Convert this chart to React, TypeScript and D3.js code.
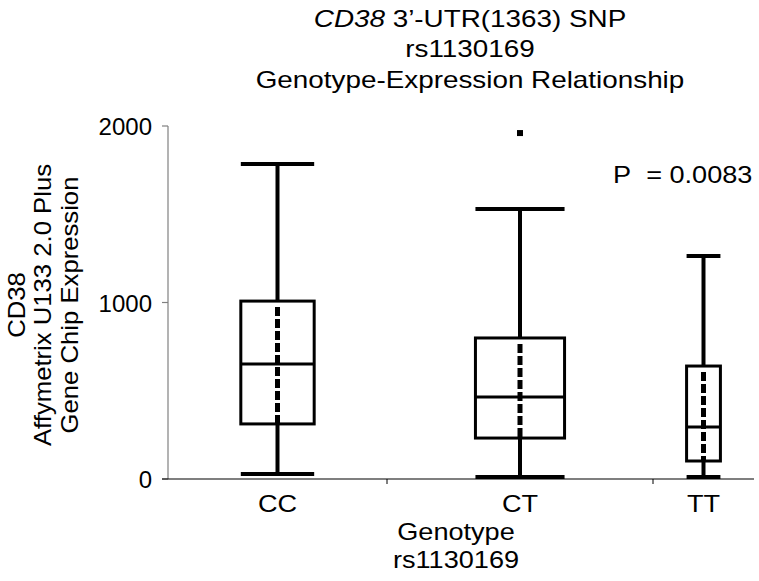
import React from "react";
import * as d3 from "d3";

const categories = ["CC", "CT", "TT"];
// relative group widths (proportional to group size)
const groupWeights = [219, 266, 101];
const whiskerLow = [28, 11, 11];
const q1 = [312, 232, 102];
const median = [652, 465, 295];
const q3 = [1008, 799, 640];
const whiskerHigh = [1785, 1530, 1263];
const outliers: { group: number; value: number }[] = [{ group: 1, value: 1960 }];
const yTicks = [0, 1000, 2000];
const pText = "P\u00a0\u00a0= 0.0083";

const W = 759;
const H = 581;
const left = 168;
const right = 754;
const top = 126;
const bottom = 479;
const font = "Liberation Sans, Arial, sans-serif";
const SX = 1.13;

function T({ x, y, size, anchor = "middle", sx = SX, children }: any) {
  return (
    <text
      transform={`translate(${x},${y}) scale(${sx},1)`}
      textAnchor={anchor}
      fontSize={size}
      fill="#000"
    >
      {children}
    </text>
  );
}

export default function App() {
  const y = d3.scaleLinear().domain([0, 2000]).range([bottom, top]);
  const total = d3.sum(groupWeights);
  const x = d3.scaleLinear().domain([0, total]).range([left, right]);
  const cum = [0, ...d3.cumsum(groupWeights)];
  const bands = categories.map((c, i) => ({
    c,
    x0: x(cum[i]),
    x1: x(cum[i + 1]),
    center: (x(cum[i]) + x(cum[i + 1])) / 2,
    bw: (x(cum[i + 1]) - x(cum[i])) * 0.335,
  }));

  return (
    <svg width={W} height={H} style={{ position: "absolute", left: 0, top: 0 }} fontFamily={font}>
      <rect width={W} height={H} fill="#fff" />
      {/* title */}
      <T x={470} y={27} size={24} sx={1.16}>
        <tspan fontStyle="italic">CD38</tspan> 3’-UTR(1363) SNP
      </T>
      <T x={470} y={57} size={24} sx={1.16}>rs1130169</T>
      <T x={470} y={88} size={24} sx={1.16}>Genotype-Expression Relationship</T>
      {/* y axis label */}
      <text transform="translate(0,305) rotate(-90) scale(1.07,1)" textAnchor="middle" fontSize={24} fill="#000">
        <tspan x={0} y={25}>CD38</tspan>
        <tspan x={0} y={51}>Affymetrix U133 2.0 Plus</tspan>
        <tspan x={0} y={78}>Gene Chip Expression</tspan>
      </text>
      {/* y axis */}
      <line x1={left} x2={left} y1={top} y2={bottom} stroke="#808080" strokeWidth={1.2} />
      {yTicks.map((t) => (
        <g key={t}>
          <line x1={left - 6} x2={left} y1={y(t)} y2={y(t)} stroke="#808080" strokeWidth={1.2} />
          <text x={152} y={y(t) + 9} textAnchor="end" fontSize={24} fill="#000">
            {t}
          </text>
        </g>
      ))}
      {/* x axis */}
      <line x1={left - 6} x2={right} y1={bottom} y2={bottom} stroke="#000" strokeWidth={1.2} />
      {bands.slice(1).map((b) => (
        <line key={b.c} x1={b.x0} x2={b.x0} y1={bottom} y2={bottom + 5} stroke="#000" strokeWidth={1} />
      ))}
      {bands.map((b) => (
        <T key={b.c} x={b.center} y={512} size={24}>
          {b.c}
        </T>
      ))}
      <T x={456} y={540} size={24}>Genotype</T>
      <T x={456} y={568} size={24}>rs1130169</T>
      {/* boxes */}
      {bands.map((b, i) => {
        const hw = b.bw / 2;
        return (
          <g key={b.c} stroke="#000" fill="none">
            <line x1={b.center} x2={b.center} y1={y(whiskerHigh[i])} y2={y(q3[i])} strokeWidth={4} />
            <line x1={b.center} x2={b.center} y1={y(q1[i])} y2={y(whiskerLow[i])} strokeWidth={4} />
            <line
              x1={b.center}
              x2={b.center}
              y1={y(q3[i]) + 6}
              y2={y(q1[i])}
              strokeWidth={5}
              strokeDasharray="9 3"
            />
            <rect x={b.center - hw} y={y(q3[i])} width={b.bw} height={y(q1[i]) - y(q3[i])} strokeWidth={3} />
            <line x1={b.center - hw} x2={b.center + hw} y1={y(median[i])} y2={y(median[i])} strokeWidth={3} />
            <line x1={b.center - hw} x2={b.center + hw} y1={y(whiskerHigh[i])} y2={y(whiskerHigh[i])} strokeWidth={4} />
            <line x1={b.center - hw} x2={b.center + hw} y1={y(whiskerLow[i])} y2={y(whiskerLow[i])} strokeWidth={4} />
          </g>
        );
      })}
      {outliers.map((o, k) => (
        <rect key={k} x={bands[o.group].center - 3} y={y(o.value) - 3} width={6} height={6} fill="#000" />
      ))}
      <T x={613} y={183} size={24} anchor="start">
        {pText}
      </T>
    </svg>
  );
}
